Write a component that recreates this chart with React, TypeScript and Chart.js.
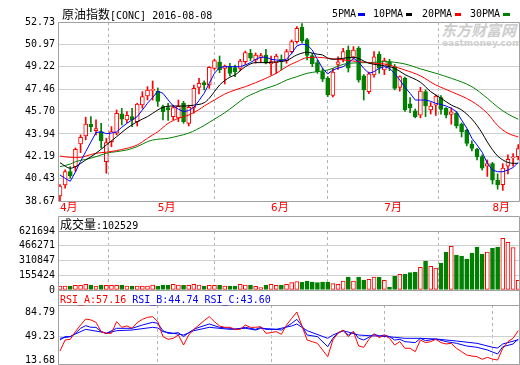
import React, { useEffect, useRef } from 'react';
import { Chart, registerables } from 'chart.js';

Chart.register(...registerables);

// ---------------- data ----------------
const monthIdx = [0, 19, 41, 63, 84];
const monthLabels = ['4月', '5月', '6月', '7月', '8月'];

const priceTicks = [38.67, 40.43, 42.19, 43.94, 45.70, 47.46, 49.22, 50.97, 52.73];
const priceTickLabels = ['38.67', '40.43', '42.19', '43.94', '45.70', '47.46', '49.22', '50.97', '52.73'];
const volTicks = [0, 155424, 310847, 466271, 621694];
const volTickLabels = ['0', '155424', '310847', '466271', '621694'];
const rsiTicks = [13.68, 49.23, 84.79];
const rsiTickLabels = ['13.68', '49.23', '84.79'];

const opens = [
  39.07, 39.93, 40.98, 41.37, 43.15, 43.78, 44.70, 44.20, 44.12, 41.76,
  43.33, 43.99, 45.51, 45.04, 45.30, 44.91, 46.21, 46.92, 47.35, 47.30,
  46.08, 46.00, 45.30, 45.20, 46.35, 44.77, 46.03, 47.60, 47.97, 47.79,
  49.09, 49.59, 49.09, 49.22, 49.15, 49.09, 49.61, 50.27, 49.75, 49.95,
  50.14, 49.43, 49.54, 49.80, 49.70, 50.40, 51.19, 52.31, 51.35, 50.10,
  49.54, 48.83, 48.33, 46.96, 49.40, 49.80, 50.53, 49.96, 50.66, 48.50,
  47.26, 48.57, 50.20, 48.96, 49.61, 49.20, 47.60, 48.30, 46.30, 45.76,
  45.42, 47.26, 45.82, 46.20, 46.80, 45.95, 45.48, 45.56, 44.72, 44.25,
  43.15, 42.73, 42.15, 41.40, 41.60, 40.32, 39.95, 41.40, 42.06, 42.15,
];
const highs = [
  39.95, 41.11, 41.37, 42.84, 43.86, 45.25, 45.30, 45.04, 44.77, 43.60,
  44.51, 45.82, 45.95, 45.69, 45.95, 46.35, 47.26, 47.65, 48.10, 47.55,
  46.20, 46.35, 46.20, 46.60, 46.50, 46.20, 47.78, 48.30, 48.10, 49.22,
  49.80, 50.06, 49.35, 49.49, 49.35, 49.80, 50.45, 50.58, 50.30, 50.27,
  50.58, 50.06, 50.20, 50.14, 50.58, 51.32, 52.37, 52.60, 51.45, 50.27,
  49.75, 49.09, 48.44, 49.10, 50.00, 50.66, 50.85, 50.80, 50.80, 48.60,
  48.80, 50.40, 50.40, 49.90, 49.80, 49.40, 48.50, 48.40, 46.80, 45.90,
  47.60, 47.40, 46.40, 47.00, 46.95, 46.00, 46.00, 45.70, 44.80, 44.30,
  43.40, 42.80, 42.30, 41.90, 41.70, 40.80, 41.60, 42.30, 42.40, 43.10,
];
const lows = [
  38.70, 39.67, 40.45, 41.00, 42.47, 43.47, 44.12, 43.86, 42.81, 40.85,
  42.94, 43.86, 44.64, 44.83, 44.51, 44.56, 45.95, 46.61, 46.60, 46.10,
  45.04, 45.00, 45.04, 44.90, 44.77, 44.56, 45.56, 47.08, 47.40, 47.52,
  48.96, 48.75, 47.86, 48.49, 48.44, 48.90, 49.40, 49.70, 49.50, 49.54,
  49.43, 48.57, 48.70, 48.96, 49.49, 50.27, 51.06, 51.11, 49.75, 49.22,
  48.70, 48.05, 46.87, 46.84, 49.00, 49.60, 48.80, 49.80, 48.00, 46.60,
  47.10, 48.40, 48.70, 48.60, 48.90, 47.40, 47.30, 45.70, 45.60, 45.20,
  45.20, 45.30, 45.50, 45.40, 45.50, 45.20, 44.70, 44.40, 43.70, 43.00,
  42.60, 41.90, 41.10, 40.60, 40.00, 39.60, 39.50, 40.80, 41.40, 41.90,
];
const closes = [
  39.85, 40.98, 40.64, 42.73, 43.68, 44.72, 44.51, 44.36, 43.41, 43.26,
  44.12, 45.56, 45.09, 45.40, 45.04, 46.29, 46.87, 47.39, 47.45, 46.50,
  45.69, 45.85, 46.00, 46.10, 44.90, 46.03, 47.52, 47.92, 47.79, 49.17,
  49.70, 48.96, 49.28, 48.70, 48.83, 49.67, 50.32, 49.88, 50.14, 50.10,
  49.49, 49.62, 50.06, 49.70, 50.40, 51.19, 52.24, 51.27, 50.10, 49.45,
  48.83, 48.23, 47.00, 48.80, 49.60, 50.40, 49.10, 50.53, 48.17, 47.40,
  48.65, 50.00, 49.10, 49.70, 49.30, 47.52, 48.44, 45.82, 46.00, 45.29,
  47.30, 46.13, 46.13, 46.92, 45.87, 45.42, 45.68, 44.56, 44.10, 43.20,
  42.80, 42.15, 41.24, 41.60, 40.30, 39.93, 41.26, 41.94, 42.10, 42.78,
];
const volumes = [
  42000, 42000, 42000, 49000, 49000, 60000, 53000, 42000, 53000, 49000,
  49000, 49000, 53000, 42000, 42000, 42000, 42000, 42000, 53000, 42000,
  53000, 53000, 60000, 53000, 49000, 49000, 60000, 53000, 42000, 49000,
  49000, 49000, 42000, 42000, 42000, 60000, 53000, 53000, 39000, 25000,
  53000, 60000, 49000, 53000, 60000, 77000, 88000, 81000, 95000, 84000,
  77000, 84000, 84000, 67000, 60000, 95000, 137000, 95000, 137000, 105000,
  112000, 137000, 137000, 102000, 32000, 147000, 165000, 169000, 183000, 190000,
  239000, 306000, 249000, 232000, 284000, 400000, 460000, 369000, 358000, 327000,
  390000, 453000, 379000, 400000, 443000, 453000, 544000, 502000, 446000, 102529,
];

const ma5 = [
  40.71, 40.45, 40.22, 40.95, 41.78, 42.55, 43.30, 44.05, 44.10, 43.96,
  44.00, 44.10, 44.46, 44.77, 45.04, 45.30, 45.82, 46.35, 46.80, 47.30,
  47.13, 46.61, 46.13, 45.88, 45.69, 45.77, 46.03, 46.56, 47.13, 47.92,
  48.70, 49.15, 49.22, 49.22, 49.22, 49.22, 49.35, 49.54, 49.80, 49.96,
  49.96, 49.80, 49.75, 49.70, 49.80, 50.27, 50.85, 51.00, 50.92, 50.53,
  49.80, 49.09, 48.65, 48.96, 49.10, 49.22, 49.50, 49.88, 49.60, 49.09,
  48.70, 48.83, 49.09, 49.22, 49.09, 48.70, 48.17, 47.60, 47.13, 46.60,
  46.60, 46.60, 46.50, 46.34, 46.25, 46.13, 45.95, 45.69, 45.03, 44.40,
  43.60, 43.07, 42.50, 41.63, 41.10, 40.97, 40.97, 41.10, 41.30, 41.70,
];
const ma10Idx = [0, 2, 3, 5, 7, 9, 11, 13, 15, 17, 18, 20, 22, 24, 26, 28, 29, 30, 31, 33, 34, 36, 38, 40, 42, 44, 46, 48, 50, 51, 52, 53, 55, 57, 60, 62, 64, 65, 67, 70, 72, 74, 76, 78, 80, 81, 82, 83, 84, 85, 86, 87, 88, 89];
const ma10Val = [41.68, 41.24, 41.37, 41.89, 42.42, 43.07, 43.72, 44.38, 44.9, 45.3, 45.56, 46.03, 46.13, 46.13, 46.2, 46.39, 46.74, 47.26, 47.78, 48.4, 48.57, 49.22, 49.54, 49.54, 49.6, 49.7, 50.14, 50.35, 50.2, 50.14, 49.9, 49.8, 49.88, 49.96, 49.49, 49.35, 49.22, 49.09, 48.6, 48.0, 47.26, 46.74, 46.21, 45.82, 45.1, 44.6, 44.0, 43.3, 42.7, 42.2, 41.9, 41.7, 41.63, 41.63];
const ma20Idx = [0, 2, 4, 5, 7, 9, 11, 13, 15, 17, 18, 19, 21, 23, 25, 27, 28, 30, 32, 34, 36, 38, 40, 42, 44, 46, 48, 50, 52, 55, 58, 61, 63, 65, 67, 70, 73, 76, 80, 83, 85, 87, 89];
const ma20Val = [42.2, 42.1, 42.1, 42.2, 42.42, 42.5, 42.63, 42.81, 43.07, 43.6, 43.86, 44.11, 44.77, 45.16, 45.42, 45.85, 46.13, 46.6, 47.07, 47.39, 47.65, 47.96, 48.31, 48.7, 49.22, 49.61, 49.93, 49.96, 49.88, 49.75, 49.62, 49.49, 49.43, 49.22, 48.96, 48.5, 47.78, 47.26, 46.5, 45.56, 44.6, 43.99, 43.7];
const ma30Idx = [0, 2, 3, 5, 7, 9, 11, 13, 15, 17, 18, 21, 23, 25, 28, 30, 32, 34, 36, 38, 40, 42, 44, 46, 48, 50, 52, 56, 60, 63, 67, 70, 73, 76, 80, 83, 85, 87, 89];
const ma30Val = [41.37, 41.57, 41.76, 41.94, 42.15, 42.42, 42.55, 42.68, 42.94, 43.33, 43.46, 43.6, 43.78, 44.0, 44.6, 45.1, 45.6, 46.2, 46.8, 47.18, 47.52, 47.78, 48.17, 48.43, 48.7, 48.83, 48.96, 49.49, 49.54, 49.62, 49.43, 49.05, 48.7, 48.31, 47.65, 46.74, 46.05, 45.5, 45.09];

const rsiA = [
  27.0, 43.3, 44.3, 55.7, 65.5, 74.4, 73.0, 69.5, 55.7, 53.2,
  53.2, 70.5, 62.1, 64.1, 60.6, 69.0, 73.9, 76.9, 77.9, 70.5,
  48.3, 44.3, 45.8, 50.7, 35.9, 50.7, 59.1, 65.5, 72.0, 77.9,
  70.5, 64.1, 62.1, 62.1, 59.1, 59.1, 65.5, 62.1, 62.1, 63.1,
  53.2, 54.2, 55.7, 51.7, 65.5, 75.4, 84.79, 64.1, 43.3, 40.9,
  38.4, 28.5, 18.6, 43.3, 53.2, 58.1, 48.3, 55.7, 34.4, 32.5,
  44.3, 52.2, 46.8, 50.7, 45.8, 35.9, 40.9, 31.0, 31.0, 26.0,
  43.3, 39.4, 40.9, 44.3, 39.4, 37.4, 38.4, 31.0, 26.0, 21.1,
  19.6, 18.6, 14.7, 17.6, 15.0, 13.68, 31.0, 40.9, 45.8, 57.16,
];
const rsiBIdx = [0, 1, 2, 3, 4, 5, 6, 7, 8, 9, 11, 13, 14, 16, 18, 19, 20, 21, 22, 23, 24, 25, 26, 27, 29, 31, 33, 34, 36, 38, 39, 40, 42, 43, 44, 45, 46, 47, 48, 50, 52, 53, 54, 55, 56, 57, 58, 59, 60, 61, 62, 63, 64, 65, 66, 67, 69, 70, 71, 73, 75, 77, 79, 81, 83, 85, 86, 88, 89];
const rsiBVal = [43.3, 48.3, 48.3, 53.2, 60.6, 64.6, 62.1, 62.1, 55.7, 53.2, 60.6, 60.6, 60.6, 65.5, 69.5, 68.0, 57.1, 53.2, 53.2, 54.2, 48.3, 54.2, 59.1, 62.1, 67.0, 62.1, 60.6, 59.1, 62.1, 59.1, 62.1, 59.1, 59.1, 58.1, 63.1, 68.0, 73.9, 64.1, 50.7, 48.3, 33.4, 45.8, 54.2, 57.1, 50.7, 55.7, 45.8, 43.3, 47.3, 52.2, 49.2, 50.7, 48.3, 43.3, 44.3, 40.9, 39.4, 45.8, 42.3, 44.8, 40.9, 38.4, 34.4, 32.5, 28.5, 22.6, 33.4, 37.4, 44.74];
const rsiCIdx = [0, 2, 3, 5, 8, 9, 11, 14, 18, 19, 20, 22, 24, 26, 29, 33, 36, 38, 39, 42, 45, 46, 47, 48, 52, 53, 55, 58, 60, 62, 65, 67, 70, 73, 77, 81, 84, 85, 86, 89];
const rsiCVal = [45.8, 48.3, 52.2, 59.1, 55.2, 53.2, 57.1, 58.1, 62.1, 61.1, 55.7, 53.2, 50.7, 57.1, 62.1, 59.1, 60.6, 58.1, 60.6, 59.1, 64.1, 67.0, 62.1, 57.1, 45.8, 50.7, 57.1, 50.7, 49.7, 49.2, 47.3, 45.8, 45.8, 44.8, 41.8, 38.4, 32.5, 31.5, 37.4, 43.6];

// ---------------- styles ----------------
const MONO = '"DejaVu Sans Mono", monospace';
const CJK = '"Noto Sans CJK SC", sans-serif';
const MIXED = '"DejaVu Sans Mono", "Noto Sans CJK SC", monospace';
const UP = '#ff0000';
const DOWN = '#008000';
const BLUE = '#0000ff';
const GRID = '#d0d0d0';
const GRID_DASH = '#b4b4b4';
const FRAME = '#a0a0a0';
const X_MIN = -0.19;
const X_MAX = 89.15;

const isUp = closes.map((c, i) => c >= opens[i]);
const pts = (idx: number[], val: number[]) => idx.map((x, k) => ({ x, y: val[k] }));
const seq = (val: number[]) => val.map((y, x) => ({ x, y }));

function framePlugin(extendTop: boolean) {
  return {
    id: 'frame',
    afterDraw(chart: any) {
      const { ctx, chartArea: a } = chart;
      const xL = Math.floor(a.left) - 0.5;
      const xR = Math.min(Math.floor(a.right) + 0.5, chart.width - 0.5);
      const yT = Math.floor(a.top) + 0.5;
      const yB = Math.min(Math.floor(a.bottom) + 0.5, chart.height - 0.5);
      const y0 = extendTop ? 0.5 : yT;
      ctx.save();
      ctx.strokeStyle = FRAME;
      ctx.lineWidth = 1;
      ctx.setLineDash([]);
      ctx.beginPath();
      ctx.moveTo(xL, y0); ctx.lineTo(xL, yB);
      ctx.moveTo(xR, y0); ctx.lineTo(xR, yB);
      ctx.moveTo(xL, yT); ctx.lineTo(xR, yT);
      ctx.moveTo(xL, yB); ctx.lineTo(xR, yB);
      if (extendTop) { ctx.moveTo(xL, y0); ctx.lineTo(xR, y0); }
      ctx.stroke();
      ctx.restore();
    },
  };
}

function xScale(showLabels: boolean) {
  return {
    type: 'linear',
    min: X_MIN,
    max: X_MAX,
    bounds: 'data',
    offset: false,
    afterBuildTicks: (s: any) => { s.ticks = monthIdx.map((value) => ({ value })); },
    afterFit: (s: any) => { s.height = showLabels ? 15 : 0; s.paddingLeft = 0; s.paddingRight = 0; },
    ticks: {
      display: showLabels,
      autoSkip: false,
      maxRotation: 0,
      minRotation: 0,
      align: 'start',
      padding: 1,
      color: UP,
      font: { family: MIXED, size: 11 },
      callback: (_v: any, i: number) => monthLabels[i],
    },
    grid: {
      drawTicks: false,
      lineWidth: 1,
      color: (c: any) => (c.index === 0 ? 'rgba(0,0,0,0)' : GRID_DASH),
    },
    border: { display: false, dash: [3, 3] },
  };
}

function yScale(min: number, max: number, tv: number[], tl: string[], gridFor?: (v: number) => boolean) {
  return {
    type: 'linear',
    position: 'left',
    min,
    max,
    bounds: 'data',
    afterBuildTicks: (s: any) => { s.ticks = tv.map((value) => ({ value })); },
    afterFit: (s: any) => { s.width = 59; s.paddingTop = 0; s.paddingBottom = 0; },
    ticks: {
      autoSkip: false,
      padding: 4,
      color: '#000',
      font: { family: MONO, size: 10 },
      callback: (_v: any, i: number) => tl[i],
    },
    grid: {
      drawTicks: false,
      lineWidth: 1,
      color: (c: any) => (gridFor && c.tick && !gridFor(c.tick.value) ? 'rgba(0,0,0,0)' : GRID),
    },
    border: { display: false },
  };
}

const baseOptions = {
  animation: false,
  responsive: false,
  devicePixelRatio: 1,
  events: [],
  plugins: { legend: { display: false }, tooltip: { enabled: false }, title: { display: false } },
};

function mainConfig(): any {
  return {
    type: 'bar',
    data: {
      datasets: [
        { type: 'line', data: seq(ma5), borderColor: BLUE, borderWidth: 1, pointRadius: 0, tension: 0, order: 0 },
        { type: 'line', data: pts(ma10Idx, ma10Val), borderColor: '#000000', borderWidth: 1, pointRadius: 0, cubicInterpolationMode: 'monotone', order: 0 },
        { type: 'line', data: pts(ma20Idx, ma20Val), borderColor: UP, borderWidth: 1, pointRadius: 0, cubicInterpolationMode: 'monotone', order: 0 },
        { type: 'line', data: pts(ma30Idx, ma30Val), borderColor: DOWN, borderWidth: 1, pointRadius: 0, cubicInterpolationMode: 'monotone', order: 0 },
        {
          type: 'bar',
          data: opens.map((o, i) => ({ x: i, y: [o, closes[i]] })),
          barThickness: 4,
          grouped: false,
          minBarLength: 1,
          backgroundColor: isUp.map((u) => (u ? '#ffffff' : DOWN)),
          borderColor: isUp.map((u) => (u ? UP : DOWN)),
          borderWidth: 1,
          borderSkipped: false,
          order: 1,
        },
        {
          type: 'bar',
          data: lows.map((l, i) => ({ x: i, y: [l, highs[i]] })),
          barThickness: 1,
          grouped: false,
          backgroundColor: isUp.map((u) => (u ? UP : DOWN)),
          borderWidth: 0,
          order: 2,
        },
      ],
    },
    options: {
      ...baseOptions,
      layout: { padding: { top: 22, right: 1, left: 0, bottom: 0 } },
      scales: { x: xScale(true), y: yScale(38.67, 52.73, priceTicks, priceTickLabels) },
    },
    plugins: [framePlugin(false)],
  };
}

function volConfig(): any {
  return {
    type: 'bar',
    data: {
      datasets: [
        {
          data: volumes.map((v, i) => ({ x: i, y: v })),
          barThickness: 4,
          grouped: false,
          backgroundColor: isUp.map((u) => (u ? '#ffffff' : DOWN)),
          borderColor: isUp.map((u) => (u ? UP : DOWN)),
          borderWidth: 1,
          borderSkipped: false,
        },
      ],
    },
    options: {
      ...baseOptions,
      layout: { padding: { top: 15, right: 1, left: 0, bottom: 6 } },
      scales: { x: xScale(false), y: yScale(0, 621694, volTicks, volTickLabels) },
    },
    plugins: [framePlugin(true)],
  };
}

function rsiConfig(): any {
  return {
    type: 'line',
    data: {
      datasets: [
        { data: seq(rsiA), borderColor: UP, borderWidth: 1, pointRadius: 0, tension: 0, order: 0 },
        { data: pts(rsiBIdx, rsiBVal), borderColor: BLUE, borderWidth: 1, pointRadius: 0, tension: 0, order: 1 },
        { data: pts(rsiCIdx, rsiCVal), borderColor: BLUE, borderWidth: 1, pointRadius: 0, tension: 0, order: 2 },
      ],
    },
    options: {
      ...baseOptions,
      layout: { padding: { top: 15, right: 1, left: 0, bottom: 0 } },
      scales: {
        x: xScale(false),
        y: yScale(6.27, 95.16, rsiTicks, rsiTickLabels, (v) => v === 49.23),
      },
    },
    plugins: [framePlugin(true)],
  };
}

const abs = (left: number, top: number, extra: any = {}) => ({
  position: 'absolute' as const,
  left,
  top,
  whiteSpace: 'pre' as const,
  ...extra,
});

export default function App() {
  const mainRef = useRef<HTMLCanvasElement>(null);
  const volRef = useRef<HTMLCanvasElement>(null);
  const rsiRef = useRef<HTMLCanvasElement>(null);

  useEffect(() => {
    const charts: Chart[] = [];
    if (mainRef.current) charts.push(new Chart(mainRef.current, mainConfig()));
    if (volRef.current) charts.push(new Chart(volRef.current, volConfig()));
    if (rsiRef.current) charts.push(new Chart(rsiRef.current, rsiConfig()));
    return () => charts.forEach((c) => c.destroy());
  }, []);

  const mono10 = { fontFamily: MONO, fontSize: 10, lineHeight: '12px' };
  const cjk12 = { fontFamily: CJK, fontSize: 12 };

  return (
    <div style={{ position: 'absolute', left: 0, top: 0, width: 520, height: 365, overflow: 'hidden', background: '#ffffff' }}>
      {/* watermark */}
      <div style={abs(441, 21, { fontFamily: CJK, fontSize: 15, fontWeight: 700, color: '#cdcdcd', lineHeight: '18px', fontStyle: 'italic' })}>东方财富网</div>
      <div style={abs(442, 38, { fontFamily: '"DejaVu Sans", sans-serif', fontSize: 9, fontWeight: 700, color: '#d0d0d0', lineHeight: '10px' })}>eastmoney.com</div>

      <canvas ref={mainRef} width={520} height={216} style={{ position: 'absolute', left: 0, top: 0 }} />
      <canvas ref={volRef} width={520} height={80} style={{ position: 'absolute', left: 0, top: 216 }} />
      <canvas ref={rsiRef} width={520} height={75} style={{ position: 'absolute', left: 0, top: 290 }} />

      {/* title */}
      <div style={abs(62, 6, { color: '#000', lineHeight: '15px' })}>
        <span style={cjk12}>原油指数</span>
        <span style={{ fontFamily: MONO, fontSize: 10 }}>[CONC] 2016-08-08</span>
      </div>

      {/* legend */}
      <div style={abs(332, 8, { ...mono10, color: '#000' })}>5PMA</div>
      <div style={abs(358, 13, { width: 7, height: 3, background: BLUE })} />
      <div style={abs(373, 8, { ...mono10, color: '#000' })}>10PMA</div>
      <div style={abs(406, 13, { width: 6, height: 3, background: '#000' })} />
      <div style={abs(422, 8, { ...mono10, color: '#000' })}>20PMA</div>
      <div style={abs(455, 13, { width: 6, height: 3, background: UP })} />
      <div style={abs(470, 8, { ...mono10, color: '#000' })}>30PMA</div>
      <div style={abs(503, 13, { width: 7, height: 3, background: DOWN })} />

      {/* volume label */}
      <div style={abs(60, 216, { color: '#000', lineHeight: '15px' })}>
        <span style={cjk12}>成交量</span>
        <span style={{ fontFamily: MONO, fontSize: 10 }}>:102529</span>
      </div>

      {/* RSI label */}
      <div style={abs(60, 294, { ...mono10 })}>
        <span style={{ color: UP }}>RSI_A:57.16 </span>
        <span style={{ color: BLUE }}>RSI_B:44.74 </span>
        <span style={{ color: BLUE }}>RSI_C:43.60</span>
      </div>
    </div>
  );
}
